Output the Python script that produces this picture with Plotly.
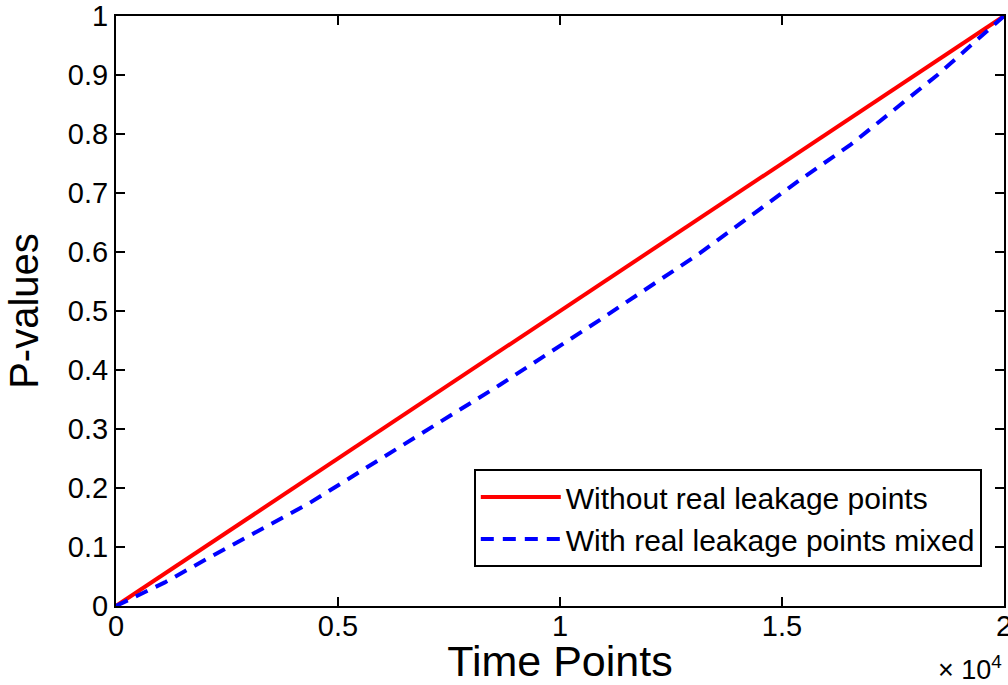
import plotly.graph_objects as go

# ---- data ----
red_x = [0, 20000]
red_y = [0.0, 1.0]

blue_x = [0, 1100, 2120, 4370, 6400, 8650, 10900, 13150, 15400, 16530, 18500, 20000]
blue_y = [0.0, 0.04, 0.083, 0.175, 0.27, 0.375, 0.485, 0.598, 0.722, 0.781, 0.90, 1.0]

x_tickvals = [0, 5000, 10000, 15000, 20000]
x_ticktext = ["0", "0.5", "1", "1.5", "2"]
y_tickvals = [0, 0.1, 0.2, 0.3, 0.4, 0.5, 0.6, 0.7, 0.8, 0.9, 1.0]
y_ticktext = ["0", "0.1", "0.2", "0.3", "0.4", "0.5", "0.6", "0.7", "0.8", "0.9", "1"]

name_red = "Without real leakage points"
name_blue = "With real leakage points mixed"

FONT = "Liberation Sans, Arial, Helvetica, sans-serif"

fig = go.Figure()
fig.add_trace(go.Scatter(x=red_x, y=red_y, mode="lines", name=name_red,
                         line=dict(color="#ff0000", width=4)))
fig.add_trace(go.Scatter(x=blue_x, y=blue_y, mode="lines", name=name_blue,
                         line=dict(color="#0000ff", width=4, dash="13px,9px")))

axis_common = dict(showgrid=False, zeroline=False, showline=True, linecolor="black",
                   linewidth=2, mirror="ticks", ticks="inside", ticklen=9,
                   tickwidth=2, tickcolor="black", automargin=False,
                   ticklabeloverflow="allow",
                   tickfont=dict(family=FONT, size=29, color="black"))

fig.update_xaxes(range=[0, 20000], tickvals=x_tickvals, ticktext=x_ticktext,
                 ticklabelstandoff=-7,
                 title=dict(text="Time Points", font=dict(family=FONT, size=43, color="black"),
                            standoff=0),
                 **axis_common)
fig.update_yaxes(range=[0, 1], tickvals=y_tickvals, ticktext=y_ticktext,
                 title=dict(text="P-values", font=dict(family=FONT, size=40, color="black"),
                            standoff=17),
                 **axis_common)

fig.add_annotation(text="× 10<sup>4</sup>", xref="paper", yref="paper", x=1.0, y=-0.137,
                   xanchor="right", yanchor="bottom", showarrow=False,
                   font=dict(family=FONT, size=27, color="black"))

fig.update_layout(
    width=1008, height=685,
    margin=dict(l=116, r=4, t=16, b=79),
    paper_bgcolor="white", plot_bgcolor="white",
    showlegend=True,
    legend=dict(x=0.975, y=0.066, xanchor="right", yanchor="bottom",
                bgcolor="white", bordercolor="black", borderwidth=2,
                font=dict(family=FONT, size=30, color="black"),
                itemwidth=80, tracegroupgap=0),
)

fig.write_html("out.html")
